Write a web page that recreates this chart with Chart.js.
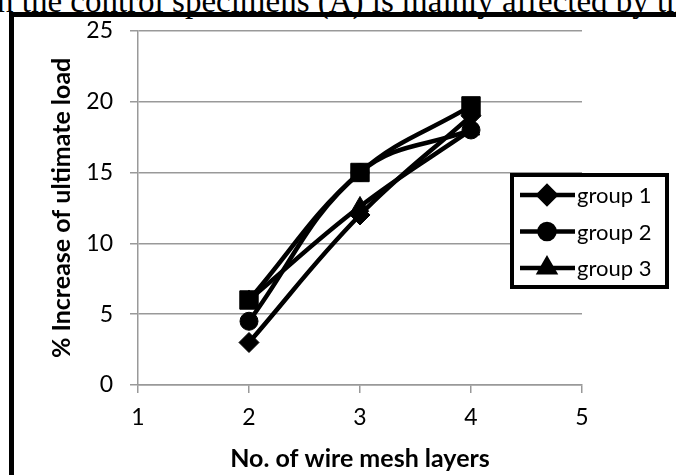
<!DOCTYPE html>
<html lang="en">
<head>
    <meta charset="UTF-8">
    <title>% Increase of ultimate load</title>
    <script src="https://cdn.jsdelivr.net/npm/chart.js"></script>
    <style>
        body {
            margin: 0;
            width: 676px;
            height: 475px;
            overflow: hidden;
            background: #fff;
            position: relative;
        }

        .top-line {
            position: absolute;
            left: -3px;
            top: -15px;
            font-family: 'Liberation Serif', serif;
            font-size: 33px;
            line-height: 32px;
            white-space: nowrap;
            color: #000;
        }

        .frame {
            position: absolute;
            left: 9px;
            top: 12px;
            width: 800px;
            height: 600px;
            border: 5px solid #000;
        }

        #chart {
            position: absolute;
            left: 0;
            top: 0;
        }
    </style>
</head>
<body>
    <div class="top-line">n the control specimens (A) is mainly affected by th</div>
    <div class="frame"></div>
    <canvas id="chart" width="676" height="475"></canvas>

    <script>
        // data
        const layers = [2, 3, 4];
        const group1 = [3, 12, 19];
        const group2 = [4.5, 15, 18];
        const group3 = [6, 12.6, 18];
        const group4 = [6, 15, 19.7];   // square series, not in the legend
        const xTicks = [1, 2, 3, 4, 5];
        const yTicks = [0, 5, 10, 15, 20, 25];

        const FONT = 'Lato, "Open Sans", sans-serif';

        function pts(vals) {
            return layers.map((x, i) => ({ x: x, y: vals[i] }));
        }

        function series(label, vals, style, radius, order, inLegend) {
            return {
                label: label,
                data: pts(vals),
                borderColor: "#000",
                backgroundColor: "#000",
                borderWidth: 4.5,
                pointStyle: style,
                pointRadius: radius,
                pointBorderWidth: 1,
                pointBackgroundColor: "#000",
                pointBorderColor: "#000",
                tension: 0.4,
                order: order,
                inLegend: inLegend
            };
        }

        // legend box drawn inside the plot like the Excel one
        const boxLegend = {
            id: "boxLegend",
            afterDraw(chart) {
                const ctx = chart.ctx;
                const items = chart.data.datasets.filter(d => d.inLegend);
                const left = 512, top = 175, w = 155, h = 112;
                ctx.save();
                ctx.fillStyle = "#fff";
                ctx.fillRect(left, top, w, h);
                ctx.lineWidth = 4;
                ctx.strokeStyle = "#000";
                ctx.strokeRect(left, top, w, h);
                ctx.font = "22px " + FONT;
                ctx.textBaseline = "middle";
                ctx.fillStyle = "#000";
                items.forEach((d, i) => {
                    const y = top + 20 + i * 36.5;
                    ctx.beginPath();
                    ctx.lineWidth = 4.5;
                    ctx.moveTo(520, y);
                    ctx.lineTo(575, y);
                    ctx.stroke();
                    Chart.helpers.drawPoint(ctx, {
                        pointStyle: d.pointStyle,
                        radius: d.pointRadius - 1.5,
                        borderWidth: 1,
                        rotation: 0
                    }, 547, y);
                    ctx.fill();
                    ctx.fillText(d.label, 577, y + 1);
                });
                ctx.restore();
            }
        };

        const ctx = document.getElementById("chart").getContext("2d");
        const chart = new Chart(ctx, {
            type: "line",
            data: {
                datasets: [
                    series("group 1", group1, "rectRot", 10, 3, true),
                    series("group 2", group2, "circle", 9, 2, true),
                    series("group 3", group3, "triangle", 10, 1, true),
                    series("group 4", group4, "rect", 13, 0, false)
                ]
            },
            options: {
                responsive: false,
                animation: false,
                layout: {
                    autoPadding: false,
                    padding: { left: 0, top: 29, right: 94, bottom: 0 }
                },
                plugins: {
                    legend: { display: false },
                    tooltip: { enabled: false }
                },
                scales: {
                    x: {
                        type: "linear",
                        min: 1,
                        max: 5,
                        afterFit: s => { s.height = 90; },
                        afterBuildTicks: s => { s.ticks = xTicks.map(v => ({ value: v })); },
                        grid: {
                            drawOnChartArea: false,
                            drawTicks: true,
                            tickLength: 8,
                            color: "#999",
                            lineWidth: 1.5
                        },
                        border: { color: "#999", width: 1.5 },
                        ticks: {
                            color: "#000",
                            padding: 11,
                            maxRotation: 0,
                            font: { family: FONT, size: 23 }
                        },
                        title: {
                            display: true,
                            text: "No. of wire mesh layers",
                            color: "#000",
                            padding: { top: 0, bottom: 1 },
                            font: { family: FONT, size: 25, weight: "bold" }
                        }
                    },
                    y: {
                        min: 0,
                        max: 25,
                        afterFit: s => { s.width = 138; },
                        afterBuildTicks: s => { s.ticks = yTicks.map(v => ({ value: v })); },
                        grid: {
                            tickLength: 8,
                            color: "#999",
                            lineWidth: 1.5
                        },
                        border: { color: "#999", width: 1.5 },
                        ticks: {
                            color: "#000",
                            padding: 17,
                            font: { family: FONT, size: 23 }
                        },
                        title: {
                            display: true,
                            text: "% Increase of ultimate load",
                            color: "#000",
                            padding: { top: 47, bottom: 0 },
                            font: { family: FONT, size: 25, weight: "bold" }
                        }
                    }
                }
            },
            plugins: [boxLegend]
        });
    </script>
</body>
</html>
